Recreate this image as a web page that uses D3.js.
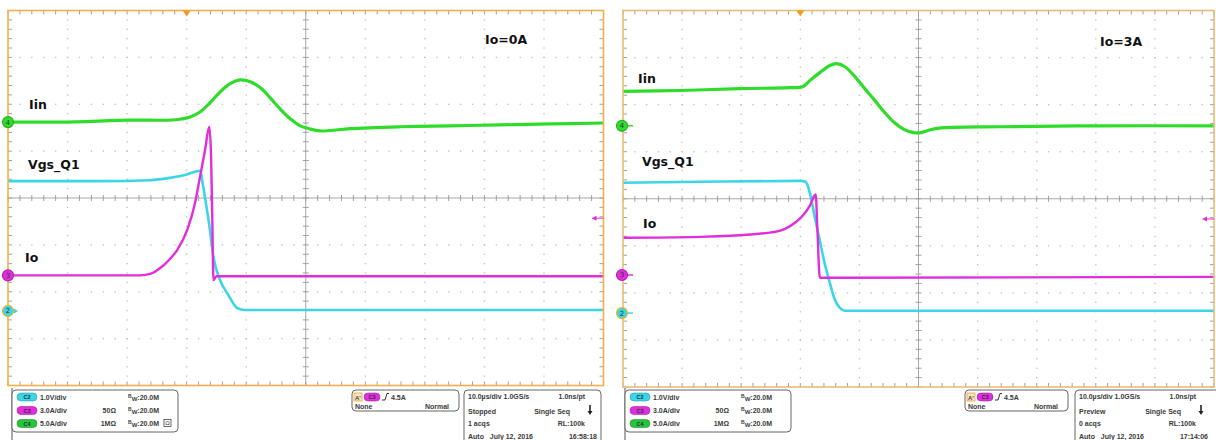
<!DOCTYPE html>
<html><head><meta charset="utf-8">
<script src="https://cdn.jsdelivr.net/npm/d3@7"></script>
<style>body{margin:0;background:#fff}svg{display:block}text{white-space:pre}</style>
</head><body><svg id="c" width="1216" height="440"></svg>
<script>
// ---------- data (time in µs, value in screen divisions from centre) ----------
const leftIin = [[-50,1.62],[-41.3,1.62],[-29.5,1.66],[-21.9,1.67],[-19.4,1.73],[-17.7,1.84],[-16.1,2.03],[-14.4,2.26],[-12.7,2.44],[-11.0,2.52],[-9.3,2.48],[-7.6,2.35],[-6.0,2.14],[-4.3,1.90],[-2.6,1.69],[-0.9,1.54],[0.8,1.47],[2.4,1.43],[4.1,1.44],[7.5,1.48],[15.9,1.52],[24.3,1.54],[32.7,1.56],[41.1,1.58],[50,1.60]];
const leftVgs = [[-50,0.36],[-34.5,0.36],[-26.1,0.38],[-22.8,0.43],[-20.3,0.49],[-18.6,0.56],[-17.7,0.58],[-17.4,0.38],[-16.9,0.0],[-16.2,-0.58],[-15.5,-1.26],[-14.4,-1.75],[-13.0,-2.07],[-11.5,-2.35],[-10.2,-2.39],[50,-2.39]];
const leftIo = [[-50,-1.65],[-27.8,-1.65],[-26.1,-1.62],[-24.5,-1.50],[-22.8,-1.30],[-21.6,-1.11],[-19.9,-0.68],[-18.6,-0.11],[-17.7,0.49],[-16.9,1.03],[-16.2,1.52],[-15.9,0.9],[-15.7,-0.4],[-15.5,-1.75],[-15.0,-1.67],[50,-1.67]];
const rightIin = [[-50,2.28],[-40.4,2.30],[-30.2,2.34],[-21.8,2.36],[-19.6,2.38],[-18.4,2.51],[-16.7,2.68],[-15.0,2.83],[-13.9,2.87],[-12.5,2.81],[-10.8,2.60],[-9.1,2.34],[-7.4,2.09],[-5.7,1.83],[-4.1,1.62],[-2.4,1.47],[-1.0,1.41],[0.2,1.40],[1.9,1.46],[3.5,1.50],[13.7,1.53],[30.6,1.55],[50,1.55]];
const rightVgs = [[-50,0.34],[-37.0,0.36],[-20.1,0.38],[-19.1,0.36],[-18.4,0.13],[-17.6,-0.36],[-16.7,-0.89],[-15.9,-1.36],[-15.0,-1.79],[-14.2,-2.13],[-13.3,-2.32],[-12.5,-2.38],[50,-2.38]];
const rightIo = [[-50,-0.83],[-37.0,-0.81],[-25.2,-0.72],[-22.6,-0.64],[-20.9,-0.51],[-19.6,-0.36],[-18.4,-0.15],[-17.4,0.09],[-17.1,-0.68],[-16.7,-1.68],[-15.0,-1.68],[50,-1.66]];
// channel ground markers (divisions) : [Iin(C4), Io(C3), Vgs(C2)]
const leftGround = [1.62, -1.65, -2.41];
const rightGround = [1.55, -1.62, -2.43];
const triggerTime = -20, triggerLevel = -0.43;
const channelNames = ["4","3","2"];
const traceLabels = ["Iin","Vgs_Q1","Io"];
const leftLabelPos = [[29,109],[28,168.5],[25,262]];
const rightLabelPos = [[638,83],[642,166],[643,228]];
const titles = ["Io=0A","Io=3A"];
const chPills = ["C2","C3","C4"];
const chScales = ["1.0V/div","3.0A/div","5.0A/div"];
const chImped = ["","50Ω","1MΩ"];
const bwText = "20.0M";
const trigText = ["4.5A","None","Normal"];
const leftAcq = [["10.0µs/div 1.0GS/s","1.0ns/pt"],["Stopped","Single Seq"],["1 acqs","RL:100k"],["Auto   July 12, 2016","16:58:18"]];
const rightAcq = [["10.0µs/div 1.0GS/s","1.0ns/pt"],["Preview","Single Seq"],["0 acqs","RL:100k"],["Auto   July 12, 2016","17:14:06"]];

const COL = {Iin:"#2fdc2a", Vgs:"#3ad6e6", Io:"#e22ddc"};
const svg = d3.select("#c");
const FONT = "'DejaVu Sans', Verdana, sans-serif";

function panel(cfg){
  const g = svg.append("g");
  const x = d3.scaleLinear().domain([-50,50]).range([cfg.x0,cfg.x1]);
  const y = d3.scaleLinear().domain([-4,4]).range([cfg.y1,cfg.y0]);
  const majX = d3.range(-40,41,10).filter(v=>v!==0);
  const majY = d3.range(-3,4,1).filter(v=>v!==0);
  const minX = d3.range(-50,50.01,2);
  const minY = d3.range(-4,4.01,0.2);
  const dots = [];
  majX.forEach(mx=>minY.forEach(my=>dots.push([x(mx),y(my)])));
  majY.forEach(my=>minX.forEach(mx=>dots.push([x(mx),y(my)])));
  g.selectAll(".dot").data(dots).enter().append("rect")
    .attr("x",d=>d[0]-0.6).attr("y",d=>d[1]-0.6).attr("width",1.3).attr("height",1.3)
    .attr("fill","#bdbdbd");
  g.append("line").attr("x1",x(-50)).attr("x2",x(50)).attr("y1",y(0)).attr("y2",y(0)).attr("stroke","#a8a8a8").attr("stroke-width",1);
  g.append("line").attr("x1",x(0)).attr("x2",x(0)).attr("y1",y(-4)).attr("y2",y(4)).attr("stroke","#a8a8a8").attr("stroke-width",1);
  const tk = g.append("g").attr("stroke","#a0a0a0").attr("stroke-width",1);
  minX.forEach(v=>{
    tk.append("line").attr("x1",x(v)).attr("x2",x(v)).attr("y1",y(4)).attr("y2",y(4)+4);
    tk.append("line").attr("x1",x(v)).attr("x2",x(v)).attr("y1",y(-4)).attr("y2",y(-4)-4);
    tk.append("line").attr("x1",x(v)).attr("x2",x(v)).attr("y1",y(0)-3).attr("y2",y(0)+3);
  });
  minY.forEach(v=>{
    tk.append("line").attr("y1",y(v)).attr("y2",y(v)).attr("x1",x(-50)).attr("x2",x(-50)+4);
    tk.append("line").attr("y1",y(v)).attr("y2",y(v)).attr("x1",x(50)).attr("x2",x(50)-4);
    tk.append("line").attr("y1",y(v)).attr("y2",y(v)).attr("x1",x(0)-3).attr("x2",x(0)+3);
  });
  const smooth = d3.line().x(d=>x(d[0])).y(d=>y(d[1])).curve(d3.curveCatmullRom.alpha(0.5));
  const mono = d3.line().x(d=>x(d[0])).y(d=>y(d[1])).curve(d3.curveMonotoneX);
  [[cfg.iin,COL.Iin,3.2,smooth],[cfg.vgs,COL.Vgs,2.6,mono],[cfg.io,COL.Io,2.4,mono]].forEach(s=>{
    g.append("path").datum(s[0]).attr("d",s[3]).attr("fill","none")
      .attr("stroke",s[1]).attr("stroke-width",s[2]).attr("stroke-linejoin","round");
  });
  g.append("rect").attr("x",cfg.x0).attr("y",cfg.y0).attr("width",cfg.x1-cfg.x0).attr("height",cfg.y1-cfg.y0)
    .attr("fill","none").attr("stroke",cfg.border).attr("stroke-width",1.6);
  const tx = x(triggerTime);
  g.append("path").attr("d",`M${tx-4},${cfg.y0}L${tx+4},${cfg.y0}L${tx},${cfg.y0+6}Z`).attr("fill","#f29a1f");
  const ty = y(triggerLevel), rx = x(50);
  g.append("line").attr("x1",rx-8).attr("x2",rx).attr("y1",ty).attr("y2",ty).attr("stroke",COL.Io).attr("stroke-width",1);
  g.append("path").attr("d",`M${rx-12},${ty}L${rx-7},${ty-2.5}L${rx-7},${ty+2.5}Z`).attr("fill",COL.Io);
  const mcols = [COL.Iin, COL.Io, COL.Vgs];
  cfg.ground.forEach((gv,i)=>{
    const my = y(gv), mx = x(-50)+cfg.mOff;
    if(cfg.arrows){
      g.append("line").attr("x1",mx).attr("x2",mx+11).attr("y1",my).attr("y2",my).attr("stroke",mcols[i]).attr("stroke-width",1.5);
    } else if(i===2){
      g.append("path").attr("d",`M${mx+6},${my-2.5}L${mx+10},${my}L${mx+6},${my+2.5}Z`).attr("fill",mcols[i]);
    }
    g.append("circle").attr("cx",mx).attr("cy",my).attr("r",5.5).attr("fill",mcols[i])
      .attr("stroke", i===2 ? "#f0b030" : d3.color(mcols[i]).darker(0.6)).attr("stroke-width",1.2);
    g.append("text").attr("x",mx).attr("y",my+2.5).attr("text-anchor","middle")
      .attr("font-family",FONT).attr("font-size",7).attr("fill","#334").text(channelNames[i]);
  });
  cfg.labels.forEach((p,i)=>{
    g.append("text").attr("x",p[0]).attr("y",p[1]).attr("font-family",FONT).attr("font-weight","bold")
      .attr("font-size",12.5).attr("fill","#111").text(traceLabels[i]);
  });
  g.append("text").attr("x",cfg.title[0]).attr("y",cfg.title[1]).attr("font-family",FONT).attr("font-weight","bold")
    .attr("font-size",12.5).attr("fill","#111").text(cfg.titleText);
}

panel({x0:8,x1:603.5,y0:10.5,y1:385.5,border:"#f3b04a",iin:leftIin,vgs:leftVgs,io:leftIo,
  ground:leftGround,mOff:0,arrows:false,labels:leftLabelPos,title:[485,44],titleText:titles[0]});
panel({x0:623,x1:1214,y0:10.5,y1:387,border:"#e6bd78",iin:rightIin,vgs:rightVgs,io:rightIo,
  ground:rightGround,mOff:-1,arrows:true,labels:rightLabelPos,title:[1100,46],titleText:titles[1]});

const SF = "'Liberation Sans', Arial, sans-serif";
function small(g,x,y,t,anchor){
  return g.append("text").attr("x",x).attr("y",y).attr("font-family",SF).attr("font-weight","bold")
    .attr("font-size",7).attr("fill","#3a3a3a").attr("text-anchor",anchor||"start").text(t);
}
function pill(g,x,y,w,col,label){
  g.append("rect").attr("x",x).attr("y",y-4).attr("width",w).attr("height",8).attr("rx",4)
    .attr("fill",col).attr("stroke",d3.color(col).darker(0.8)).attr("stroke-width",0.6);
  g.append("text").attr("x",x+w/2).attr("y",y+2.2).attr("text-anchor","middle").attr("font-family",SF)
    .attr("font-size",5.5).attr("font-weight","bold").attr("fill","#234").text(label);
}
function info(o){
  const g = svg.append("g");
  g.append("line").attr("x1",o.b1).attr("x2",o.b1).attr("y1",388).attr("y2",440).attr("stroke","#555").attr("stroke-width",1);
  g.append("rect").attr("x",o.b1).attr("y",390).attr("width",166).attr("height",42).attr("rx",4)
    .attr("fill","#fff").attr("stroke","#666").attr("stroke-width",1);
  const pc = [COL.Vgs, COL.Io, "#28c43a"];
  [397,410.5,423.5].forEach((ry,i)=>{
    pill(g,o.b1+5,ry,20,pc[i],chPills[i]);
    small(g,o.b1+28,ry+2.5,chScales[i]);
    if(chImped[i]) small(g,o.b1+104,ry+2.5,chImped[i],"end");
    const t = small(g,o.b1+116,ry+2.5,"");
    t.append("tspan").attr("font-size",5).attr("dy",-2).text("B");
    t.append("tspan").attr("font-size",6).attr("dy",3).text("W");
    t.append("tspan").attr("dy",-1).text(":"+bwText);
  });
  if(o.icon){
    g.append("rect").attr("x",o.b1+152).attr("y",419.5).attr("width",7).attr("height",7).attr("fill","#fff").attr("stroke","#444").attr("stroke-width",0.8);
    g.append("text").attr("x",o.b1+155.5).attr("y",425.3).attr("text-anchor","middle").attr("font-family",SF).attr("font-size",6).attr("fill","#333").text("Ω");
  }
  g.append("rect").attr("x",o.b2).attr("y",390).attr("width",o.w2).attr("height",21).attr("rx",4)
    .attr("fill","#fff").attr("stroke","#666").attr("stroke-width",1);
  g.append("rect").attr("x",o.b2+2).attr("y",393).attr("width",8).attr("height",8).attr("fill","#f7e7c8").attr("stroke","#f0a030").attr("stroke-width",0.8);
  small(g,o.b2+3,399.5,"A'").attr("font-size",6);
  pill(g,o.b2+12,397,16,COL.Io,"C3");
  g.append("path").attr("d",`M${o.b2+30},${400}L${o.b2+33},${400}L${o.b2+35},${393.5}L${o.b2+37},${393.5}`)
    .attr("fill","none").attr("stroke","#333").attr("stroke-width",1);
  small(g,o.b2+39,399.5,trigText[0]);
  small(g,o.b2+3,408.5,trigText[1]);
  small(g,o.b2+o.w2-10,408.5,trigText[2],"end");
  g.append("rect").attr("x",o.b3).attr("y",390).attr("width",o.w3).attr("height",60).attr("rx",4)
    .attr("fill","#fff").attr("stroke","#666").attr("stroke-width",1);
  const rows = [399,413.5,426,438.5];
  const rEnd = [121,106,121,133];
  o.acq.forEach((r,i)=>{
    small(g,o.b3+4,rows[i],r[0]);
    small(g,o.b3+rEnd[i],rows[i],r[1],"end");
  });
  g.append("path").attr("d",`M${o.b3+126},${405}L${o.b3+126},${412}`).attr("stroke","#222").attr("stroke-width",1.6);
  g.append("path").attr("d",`M${o.b3+123.5},${411}L${o.b3+128.5},${411}L${o.b3+126},${415}Z`).attr("fill","#222");
}
info({b1:12,b2:352,w2:107,b3:464,w3:137,acq:leftAcq,icon:true});
info({b1:625,b2:965,w2:103,b3:1075,w3:145,acq:rightAcq,icon:false});
</script></body></html>
